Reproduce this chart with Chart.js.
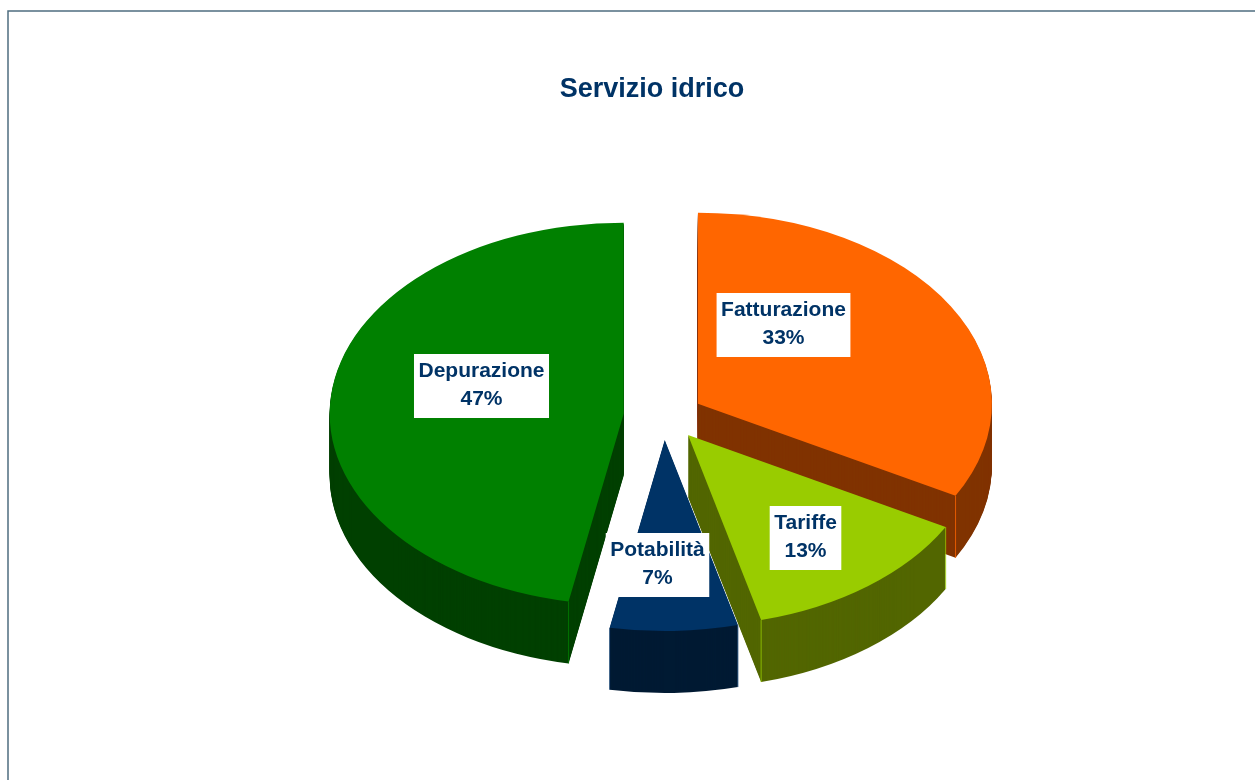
<!DOCTYPE html>
<html><head><meta charset="utf-8">
<style>html,body{margin:0;padding:0;background:#fff}#w{width:1255px;height:780px;position:relative}</style>
<script src="https://cdn.jsdelivr.net/npm/chart.js@4"></script></head>
<body><div id="w"><canvas id="c" width="1255" height="780"></canvas></div>
<script>
const titleText = 'Servizio idrico';
const categories = ['Fatturazione', 'Tariffe', 'Potabilità', 'Depurazione'];
const values = [33, 13, 7, 47];
const topColors = ['#FF6600', '#99CC00', '#003366', '#008000'];
const sideColors = ['#803300', '#526600', '#001A33', '#004000'];
const drawOrder = [0, 3, 2, 1];
const labelOffsets = [[120, -91], [142, 122], [-6, 149], [-182, -30]];

const pie = {cx: 663.5, cy: 416, squash: 0.65, explodeSquash: 0.6, depth: 62, explode: 40};
const navy = '#003366';

function withOptions(arc, over, fn) {
  const saved = arc.options;
  arc.options = Object.assign({}, saved, over);
  fn();
  arc.options = saved;
}
function sliceOrigin(arc) {
  const mid = (arc.startAngle + arc.endAngle) / 2;
  return {x: pie.cx + Math.cos(mid) * pie.explode,
          y: pie.cy + Math.sin(mid) * pie.explode * pie.explodeSquash};
}
function place(ctx, arc, dy) {
  const o = sliceOrigin(arc);
  ctx.translate(o.x, o.y + dy);
  ctx.scale(1, pie.squash);
  ctx.translate(-arc.x, -arc.y);
}
const pie3d = {
  id: 'pie3d',
  beforeDraw(chart) {
    const ctx = chart.ctx;
    ctx.save();
    ctx.strokeStyle = '#4F6E80';
    ctx.lineWidth = 1.5;
    ctx.beginPath();
    ctx.moveTo(8, 780); ctx.lineTo(8, 11); ctx.lineTo(1255, 11);
    ctx.stroke();
    ctx.restore();
  },
  beforeDatasetDraw(chart) {
    const ctx = chart.ctx;
    const arcs = chart.getDatasetMeta(0).data;
    drawOrder.forEach(i => {
      const arc = arcs[i];
      for (let d = pie.depth; d >= 1; d--) {
        ctx.save();
        place(ctx, arc, d);
        withOptions(arc, {backgroundColor: sideColors[i], borderWidth: 0}, () => arc.draw(ctx));
        ctx.restore();
      }
      // light vertical corner edges of the walls
      const org = sliceOrigin(arc);
      ctx.save();
      ctx.strokeStyle = topColors[i];
      ctx.lineWidth = 1;
      ctx.globalAlpha = 0.8;
      [arc.startAngle, arc.endAngle].forEach(a => {
        if (Math.sin(a) < 0.3) return;
        const x = org.x + Math.cos(a) * arc.outerRadius, y = org.y + Math.sin(a) * arc.outerRadius * pie.squash;
        ctx.beginPath(); ctx.moveTo(x, y); ctx.lineTo(x, y + pie.depth); ctx.stroke();
      });
      ctx.restore();
      ctx.save();
      place(ctx, arc, 0);
      arc.draw(ctx);
      ctx.restore();
    });
    // labels
    ctx.save();
    ctx.font = 'bold 21px "Liberation Sans"';
    ctx.textAlign = 'center';
    ctx.textBaseline = 'middle';
    const total = values.reduce((a, b) => a + b, 0);
    arcs.forEach((arc, i) => {
      const x = pie.cx + labelOffsets[i][0], y = pie.cy + labelOffsets[i][1];
      const pct = Math.round(values[i] / total * 100) + '%';
      const w = Math.max(ctx.measureText(categories[i]).width, ctx.measureText(pct).width) + 9;
      ctx.fillStyle = '#fff';
      ctx.fillRect(x - w / 2, y - 32, w, 64);
      ctx.fillStyle = navy;
      ctx.fillText(categories[i], x, y - 15);
      ctx.fillText(pct, x, y + 13);
    });
    ctx.restore();
    return false;
  }
};
new Chart(document.getElementById('c'), {
  type: 'pie',
  data: {labels: categories, datasets: [{
    data: values, backgroundColor: topColors, borderWidth: 0
  }]},
  plugins: [pie3d],
  options: {
    responsive: false, animation: false, radius: 294,
    layout: {padding: {left: 49}},
    plugins: {
      legend: {display: false}, tooltip: {enabled: false},
      title: {display: true, text: titleText, color: navy,
        font: {family: '"Liberation Sans"', size: 27, weight: 'bold'},
        padding: {top: 73, bottom: 0}}
    }
  }
});
</script></body></html>
